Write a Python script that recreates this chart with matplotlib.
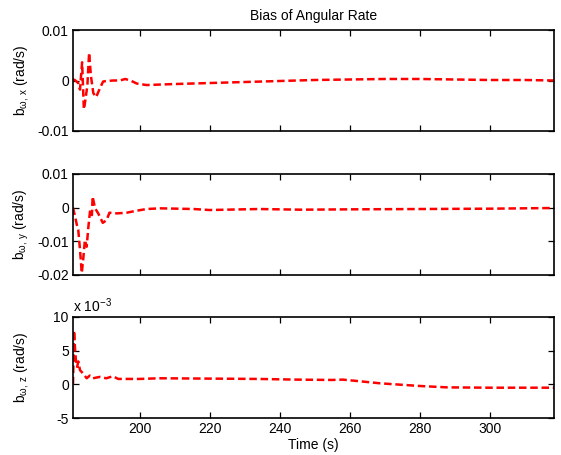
import numpy as np
import matplotlib.pyplot as plt
from matplotlib.ticker import FuncFormatter

# Bias estimates (time in s, bias in rad/s)
t_x = [181.0, 181.5, 182.5, 183.0, 183.6, 184.1, 184.3, 185.1, 185.6, 186.1, 186.8,
       187.6, 188.7, 189.6, 190.6, 192.5, 194.4, 195.9, 197.4, 199.2, 202.0, 210.0,
       220.0, 230.0, 240.0, 250.0, 260.0, 270.0, 280.0, 290.0, 300.0, 310.0, 318.3]
b_x = [0.0002, 0.0001, -0.0005, -0.0018, 0.0036, -0.0057, -0.0050, -0.0010, 0.0055,
       0.0010, -0.0025, -0.0033, -0.0015, -0.0002, -0.0001, 0.0000, 0.0000, 0.0003,
       0.0000, -0.0006, -0.0009, -0.0007, -0.0005, -0.0003, -0.0001, 0.0001, 0.0002,
       0.0003, 0.0003, 0.0002, 0.0001, 0.0001, 0.0000]

t_y = [181.0, 181.6, 182.1, 182.5, 183.0, 183.5, 183.9, 184.4, 184.9, 185.4, 185.9,
       186.4, 186.6, 187.3, 188.2, 189.5, 190.6, 191.4, 193.5, 196.3, 199.2, 202.0,
       205.9, 215.4, 220.0, 234.0, 246.0, 260.0, 280.0, 300.0, 318.3]
b_y = [0.0000, -0.0027, -0.0051, -0.0066, -0.0125, -0.0194, -0.0155, -0.0096, -0.0116,
       -0.0056, -0.0007, -0.0022, 0.0033, -0.0002, -0.0017, -0.0045, -0.0037, -0.0015,
       -0.0017, -0.0015, -0.0009, -0.0004, -0.0002, -0.0004, -0.0007, -0.0004, -0.0006,
       -0.0005, -0.0004, -0.0003, -0.0001]

t_z = [181.0, 181.3, 181.6, 181.9, 182.2, 182.5, 183.0, 183.9, 184.9, 185.8, 186.7,
       188.6, 190.5, 192.4, 193.9, 200.0, 205.7, 220.0, 234.0, 245.0, 255.0, 258.0,
       262.0, 268.7, 280.1, 287.8, 300.0, 318.3]
b_z = [0.0, 8.0e-3, 5.1e-3, 3.1e-3, 2.6e-3, 3.4e-3, 2.1e-3, 1.6e-3, 0.9e-3, 1.3e-3,
       0.9e-3, 1.1e-3, 0.9e-3, 1.2e-3, 0.8e-3, 0.8e-3, 0.9e-3, 0.85e-3, 0.8e-3,
       0.7e-3, 0.65e-3, 0.7e-3, 0.5e-3, 0.15e-3, -0.25e-3, -0.45e-3, -0.5e-3, -0.5e-3]

plt.rcParams['font.family'] = ['Liberation Sans', 'DejaVu Sans']
plt.rcParams['font.size'] = 10
plt.rcParams['mathtext.fontset'] = 'custom'
plt.rcParams['mathtext.rm'] = 'Liberation Sans'
plt.rcParams['mathtext.it'] = 'Liberation Sans'

fig = plt.figure(figsize=(5.61, 4.55), dpi=100)
W, H = 561, 455
boxes = [(73, 30), (73, 174), (73, 317)]
axes = [fig.add_axes([x / W, 1 - (y + 101) / H, 481 / W, 101 / H]) for x, y in boxes]

series = [(t_x, b_x, 'x', (-0.01, 0.01), [-0.01, 0, 0.01]),
          (t_y, b_y, 'y', (-0.02, 0.01), [-0.02, -0.01, 0, 0.01]),
          (t_z, b_z, 'z', (-0.005, 0.01), [-0.005, 0, 0.005, 0.01])]

for ax, (t, b, axis, ylim, yt) in zip(axes, series):
    ax.plot(t, b, color='red', linestyle='--', linewidth=1.8, dashes=(3, 1.5))
    ax.set_xlim(181, 318.3)
    ax.set_ylim(*ylim)
    ax.set_yticks(yt)
    ax.set_xticks(range(200, 301, 20))
    ax.tick_params(direction='in', top=True, right=True, length=4, width=0.9, pad=3)
    for s in ax.spines.values():
        s.set_linewidth(1.2)
    ax.set_ylabel(r'b$_{\omega,\,%s}$ (rad/s)' % axis)
    ax.yaxis.set_label_coords(-0.088, 0.5)
    ax.yaxis.set_major_formatter(FuncFormatter(lambda v, p: f'{v:g}'))

axes[0].set_xticklabels([])
axes[1].set_xticklabels([])
axes[2].yaxis.set_major_formatter(FuncFormatter(lambda v, p: f'{v * 1e3:g}'))
axes[2].text(0.0, 1.02, r'x 10$^{-3}$', transform=axes[2].transAxes, ha='left', va='bottom')
axes[2].set_xlabel('Time (s)', labelpad=1)
axes[0].set_title('Bias of Angular Rate', fontsize=10, pad=7)

fig.savefig('out.png', dpi=100)
